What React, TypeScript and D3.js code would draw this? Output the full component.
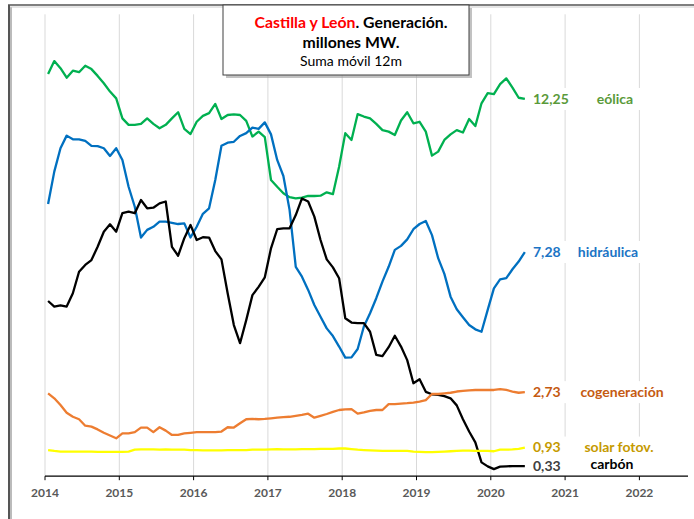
import React from 'react';
import * as d3 from 'd3';

// monthly values (12-month rolling sum), Jan 2014 - Jun 2020
const eolica = [
  13.06, 13.48, 13.25, 12.94, 13.17, 13.12, 13.33, 13.22, 13.0, 12.76, 12.49, 12.27,
  11.62, 11.41, 11.41, 11.44, 11.62, 11.44, 11.3, 11.41, 11.62, 11.82, 11.28, 11.11,
  11.51, 11.7, 11.79, 12.09, 11.6, 11.73, 11.75, 11.73, 11.54, 11.03, 11.19, 11.01,
  9.62, 9.4, 9.19, 9.06, 9.02, 9.05, 9.1, 9.1, 9.11, 9.22, 9.16, 10.05,
  11.14, 10.92, 11.76, 11.68, 11.62, 11.44, 11.24, 11.19, 11.08, 11.55, 11.82, 11.46,
  11.51, 11.19, 10.41, 10.54, 10.92, 11.1, 11.24, 11.16, 11.6, 11.37, 12.11, 12.44,
  12.41, 12.73, 12.92, 12.62, 12.29, 12.25,
];
const hidraulica = [
  8.84, 9.89, 10.65, 11.06, 10.94, 10.94, 10.89, 10.73, 10.72, 10.65, 10.4, 10.65,
  10.27, 9.4, 8.75, 7.75, 8.0, 8.1, 8.27, 8.27, 8.23, 8.19, 8.21, 7.75,
  8.1, 8.52, 8.7, 9.62, 10.73, 10.83, 10.86, 11.05, 11.14, 11.32, 11.28, 11.49,
  11.1, 10.27, 9.75, 8.65, 6.8, 6.48, 6.05, 5.56, 5.18, 4.8, 4.55, 4.21,
  3.85, 3.86, 4.13, 4.86, 5.29, 5.78, 6.32, 6.8, 7.35, 7.48, 7.69, 8.02,
  8.19, 8.29, 7.83, 7.08, 6.57, 5.83, 5.42, 5.16, 4.91, 4.77, 4.69, 5.4,
  6.1, 6.39, 6.43, 6.72, 6.97, 7.28,
];
const carbon = [
  5.69, 5.51, 5.55, 5.51, 5.94, 6.64, 6.86, 7.02, 7.45, 7.94, 8.18, 7.94,
  8.54, 8.59, 8.54, 8.97, 8.7, 8.72, 8.86, 8.92, 7.45, 7.16, 7.73, 8.16,
  7.67, 7.76, 7.75, 7.31, 7.04, 5.94, 4.91, 4.32, 5.07, 5.88, 6.15, 6.46,
  7.4, 8.02, 8.05, 8.05, 8.48, 9.02, 8.92, 8.43, 7.67, 7.04, 6.78, 6.43,
  5.13, 4.99, 4.97, 4.97, 4.69, 3.94, 3.9, 4.19, 4.56, 4.21, 3.77, 3.02,
  3.15, 2.74, 2.66, 2.64, 2.6, 2.53, 2.3, 1.85, 1.45, 1.1, 0.45, 0.32,
  0.23, 0.31, 0.32, 0.33, 0.33, 0.33,
];
const cogeneracion = [
  2.69, 2.53, 2.31, 2.06, 1.93, 1.85, 1.64, 1.61, 1.52, 1.41, 1.32, 1.23,
  1.39, 1.39, 1.43, 1.58, 1.58, 1.43, 1.59, 1.48, 1.34, 1.34, 1.39, 1.41,
  1.43, 1.43, 1.43, 1.43, 1.45, 1.59, 1.58, 1.72, 1.85, 1.86, 1.85, 1.86,
  1.88, 1.9, 1.92, 1.93, 1.96, 1.99, 2.03, 1.9, 1.96, 2.02, 2.09, 2.15,
  2.17, 2.18, 2.03, 2.07, 2.12, 2.15, 2.15, 2.34, 2.34, 2.36, 2.37, 2.39,
  2.42, 2.47, 2.67, 2.67, 2.69, 2.71, 2.75, 2.77, 2.79, 2.8, 2.8, 2.8,
  2.8, 2.83, 2.8, 2.75, 2.71, 2.73,
];
const solar = [
  0.85, 0.82, 0.8, 0.8, 0.8, 0.8, 0.8, 0.8, 0.79, 0.79, 0.79, 0.79,
  0.79, 0.8, 0.86, 0.87, 0.87, 0.87, 0.86, 0.87, 0.86, 0.86, 0.86, 0.85,
  0.85, 0.84, 0.84, 0.84, 0.84, 0.85, 0.85, 0.85, 0.85, 0.86, 0.86, 0.86,
  0.87, 0.88, 0.87, 0.87, 0.87, 0.88, 0.88, 0.88, 0.89, 0.89, 0.89, 0.9,
  0.9, 0.88, 0.86, 0.85, 0.84, 0.83, 0.82, 0.82, 0.82, 0.82, 0.82, 0.8,
  0.79, 0.78, 0.78, 0.79, 0.8, 0.81, 0.82, 0.83, 0.83, 0.82, 0.82, 0.82,
  0.81, 0.86, 0.86, 0.87, 0.89, 0.93,
];

const years = d3.range(2014, 2023);

const series = [
  { key: 'eolica', values: eolica, color: '#00B050', name: 'eólica', label: '12,25', textColor: '#5A9A3A', nameX: 615 },
  { key: 'hidraulica', values: hidraulica, color: '#0070C0', name: 'hidráulica', label: '7,28', textColor: '#1B74C5', nameX: 608 },
  { key: 'carbon', values: carbon, color: '#000000', name: 'carbón', label: '0,33', textColor: '#404040', nameColor: '#000', nameX: 612, nameDy: -2 },
  { key: 'cogeneracion', values: cogeneracion, color: '#ED7D31', name: 'cogeneración', label: '2,73', textColor: '#C55A11', nameX: 622 },
  { key: 'solar', values: solar, color: '#FFFF00', name: 'solar fotov.', label: '0,93', textColor: '#C59A00', nameX: 619 },
];

const FONT = 'Lato, "Open Sans", sans-serif';

export default function App() {
  const W = 694;
  const H = 519;

  const x = d3.scaleLinear().domain([2014, 2022]).range([45, 639.4]);
  const y = d3.scaleLinear().domain([0, 15]).range([476.2, 14.3]);

  // month index -> mid-month position
  const dateOf = (i: number) => 2014 + (i + 0.5) / 12;

  const line = d3
    .line<number>()
    .x((d, i) => x(dateOf(i)))
    .y(d => y(d))
    .curve(d3.curveLinear);

  const labelX = 533;

  return (
    <svg width={W} height={H} style={{ position: 'absolute', left: 0, top: 0, fontFamily: FONT }}>
      <rect x={0} y={0} width={W} height={H} fill="#fff" />

      {/* frame */}
      <line x1={11} y1={7} x2={11} y2={H} stroke="#bbb" strokeWidth={2} />
      <line x1={9} y1={5} x2={9} y2={H} stroke="#555" strokeWidth={2} />
      <line x1={8} y1={5} x2={W} y2={5} stroke="#555" strokeWidth={1.5} />
      <line x1={10} y1={7} x2={W} y2={7} stroke="#ccc" strokeWidth={1} />

      {/* grid */}
      {years.map(yr => (
        <line key={yr} x1={x(yr)} x2={x(yr)} y1={y(15)} y2={y(0)} stroke="#d9d9d9" strokeWidth={1} />
      ))}

      {/* series */}
      {series.map(s => (
        <path
          key={s.key}
          d={line(s.values) || ''}
          fill="none"
          stroke={s.color}
          strokeWidth={2.3}
          strokeLinejoin="round"
        />
      ))}

      {/* end labels */}
      {series.map(s => {
        const ly = y(s.values[s.values.length - 1]);
        return <rect key={s.key} x={530} y={ly - 11} width={140} height={22} fill="#fff" />;
      })}
      {series.map(s => {
        const ly = y(s.values[s.values.length - 1]);
        return (
          <g key={s.key} fontWeight="bold" fontSize={14}>
            <text x={labelX} y={ly + 1} dominantBaseline="middle" fill={s.textColor}>
              {s.label}
            </text>
            <text
              x={s.nameX}
              y={ly + 1 + (s.nameDy || 0)}
              dominantBaseline="middle"
              textAnchor="middle"
              fill={s.nameColor || s.textColor}
            >
              {s.name}
            </text>
          </g>
        );
      })}

      {/* x axis */}
      <line x1={x(2014)} x2={688} y1={y(0)} y2={y(0)} stroke="#000" strokeWidth={1.2} />
      {years.map(yr => (
        <g key={yr}>
          <line x1={x(yr)} x2={x(yr)} y1={y(0)} y2={y(0) + 4} stroke="#000" strokeWidth={1} />
          <text
            x={x(yr)}
            y={494}
            textAnchor="middle"
            dominantBaseline="middle"
            fontSize={12}
            fontWeight="bold"
            fill="#595959"
          >
            {yr}
          </text>
        </g>
      ))}

      {/* title box */}
      <rect x={226} y={8} width={246} height={70} fill="#999" opacity={0.6} />
      <rect x={223} y={5} width={246} height={70} fill="#fff" stroke="#404040" strokeWidth={1} />
      <text x={351} y={24} textAnchor="middle" dominantBaseline="middle" fontSize={15.8} fontWeight="bold">
        <tspan fill="#FF0000">Castilla y León</tspan>
        <tspan fill="#000">. Generación.</tspan>
      </text>
      <text x={351} y={44} textAnchor="middle" dominantBaseline="middle" fontSize={15.8} fontWeight="bold" fill="#000">
        millones MW.
      </text>
      <text x={351} y={62} textAnchor="middle" dominantBaseline="middle" fontSize={14} fill="#000">
        Suma móvil 12m
      </text>
    </svg>
  );
}
